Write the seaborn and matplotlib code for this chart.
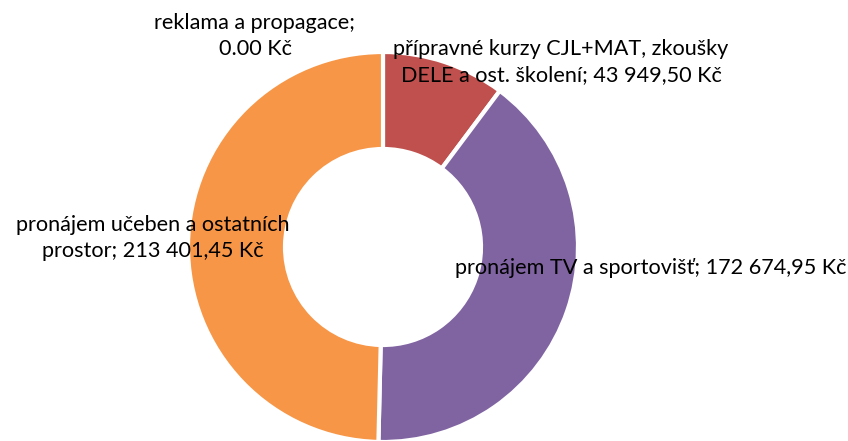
import matplotlib
matplotlib.use("Agg")
import matplotlib.pyplot as plt
import seaborn as sns

# Data
categories = [
    "reklama a propagace",
    "přípravné kurzy CJL+MAT, zkoušky DELE a ost. školení",
    "pronájem TV a sportovišť",
    "pronájem učeben a ostatních prostor",
]
values = [0.00, 43949.50, 172674.95, 213401.45]
value_labels = ["0.00 Kč", "43 949,50 Kč", "172 674,95 Kč", "213 401,45 Kč"]
label_texts = [
    "reklama a propagace;\n0.00 Kč",
    "přípravné kurzy CJL+MAT, zkoušky\nDELE a ost. školení; 43 949,50 Kč",
    "pronájem TV a sportovišť; 172 674,95 Kč",
    "pronájem učeben a ostatních\nprostor; 213 401,45 Kč",
]

sns.set_style("white")
plt.rcParams["font.family"] = ["Lato", "DejaVu Sans"]

colors = ["#4F81BD", "#C0504D", "#8064A2", "#F79646"]

fig = plt.figure(figsize=(8.48, 4.41), dpi=100)
ax = fig.add_axes([0, 0, 1, 1])

# Donut
ax.pie(values, colors=colors, startangle=90, counterclock=False,
       center=(383, 194), radius=195,
       wedgeprops=dict(width=97, edgecolor="white", linewidth=3))
ax.set_xlim(0, 848)
ax.set_ylim(0, 441)
ax.set_aspect("equal")
ax.axis("off")

# Data labels
label_pos = [(255, 405), (561, 379), (651, 173), (153, 203)]
for txt, (x, y) in zip(label_texts, label_pos):
    ax.text(x, y, txt, ha="center", va="center", fontsize=15.6,
            color="#000000", linespacing=1.4)

fig.savefig("out.png", dpi=100)
